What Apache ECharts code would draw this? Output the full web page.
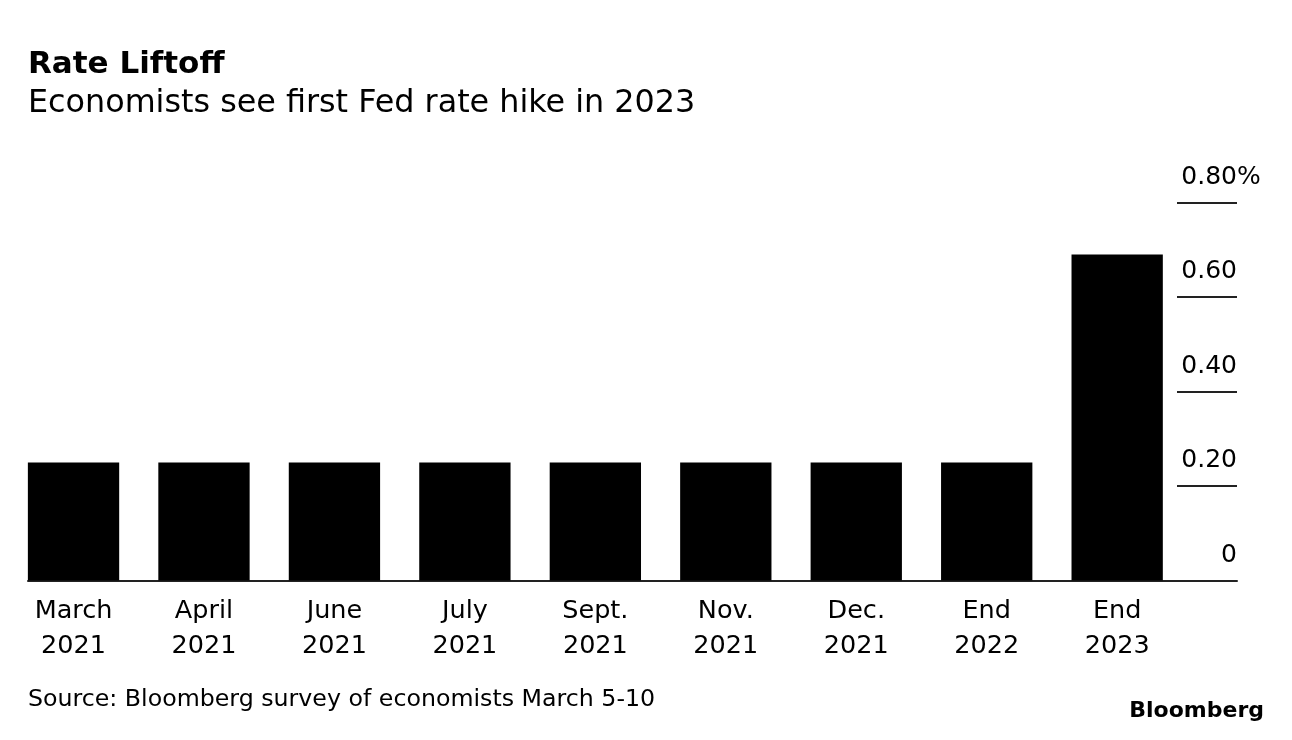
<!DOCTYPE html>
<html>
<head>
<meta charset="utf-8">
<script src="https://cdn.jsdelivr.net/npm/echarts@6/dist/echarts.min.js"></script>
<style>
html,body{margin:0;padding:0;background:#fff;}
#chart{width:1292px;height:740px;}
</style>
</head>
<body>
<div id="chart"></div>
<script>
// ---- data ----
const categories = ['March\n2021', 'April\n2021', 'June\n2021', 'July\n2021', 'Sept.\n2021', 'Nov.\n2021', 'Dec.\n2021', 'End\n2022', 'End\n2023'];
const rateValues = [0.25, 0.25, 0.25, 0.25, 0.25, 0.25, 0.25, 0.25, 0.69];
const yTickValues = [0, 0.2, 0.4, 0.6, 0.8];
const yTickLabels = ['0', '0.20', '0.40', '0.60', '0.80'];
const titleText = 'Rate Liftoff';
const subtitleText = 'Economists see first Fed rate hike in 2023';
const sourceText = 'Source: Bloomberg survey of economists March 5-10';
const logoText = 'Bloomberg';

const FONT = 'DejaVu Sans';
const yMin = yTickValues[0], yMax = yTickValues[yTickValues.length - 1];
const yStep = yTickValues[1] - yTickValues[0];

const chart = echarts.init(document.getElementById('chart'), null, {renderer: 'canvas'});

function yLabel(v) {
  const i = yTickValues.findIndex(t => Math.abs(t - v) < 1e-9);
  const txt = i >= 0 ? yTickLabels[i] : String(v);
  return i === yTickValues.length - 1 ? '{n|' + txt + '}{p|%}' : '{n|' + txt + '}';
}

const option = {
  backgroundColor: '#ffffff',
  animation: false,
  title: [
    {text: titleText, left: 28, top: 49, padding: 0,
     textStyle: {fontFamily: FONT, fontWeight: 'bold', fontSize: 31, lineHeight: 31, color: '#000'}},
    {text: subtitleText, left: 28, top: 88, padding: 0,
     textStyle: {fontFamily: FONT, fontWeight: 'normal', fontSize: 31.8, lineHeight: 32, color: '#000'}},
    {text: sourceText, left: 28, top: 688, padding: 0,
     textStyle: {fontFamily: FONT, fontWeight: 'normal', fontSize: 23.7, lineHeight: 24, color: '#000'}},
    {text: logoText, right: 28, top: 700, padding: 0,
     textStyle: {fontFamily: FONT, fontWeight: 'bold', fontSize: 22, lineHeight: 22, color: '#000'}}
  ],
  grid: [
    {left: 8.3, right: 109.6, top: 202.5, bottom: 159.5, containLabel: false},
    {left: 28, right: 55, top: 202.5, bottom: 159.5, containLabel: false}
  ],
  xAxis: [
    {type: 'category', gridIndex: 0, data: categories,
     axisLine: {show: false}, axisTick: {show: false},
     axisLabel: {interval: 0, margin: 13, color: '#000', fontFamily: FONT, fontSize: 25.5, lineHeight: 35}},
    {type: 'value', gridIndex: 1, min: 0, max: 1, show: true, position: 'bottom',
     axisLine: {show: true, onZero: false, lineStyle: {color: '#222', width: 2}},
     axisTick: {show: false}, axisLabel: {show: false}, splitLine: {show: false}}
  ],
  yAxis: [
    {type: 'value', gridIndex: 0, min: yMin, max: yMax, interval: yStep, show: false},
    {type: 'value', gridIndex: 1, min: yMin, max: yMax, interval: yStep, position: 'right',
     axisLine: {show: false, onZero: false},
     axisTick: {show: true, inside: true, length: 60, lineStyle: {color: '#222', width: 2}},
     splitLine: {show: false},
     axisLabel: {inside: true, margin: 0, align: 'right', verticalAlign: 'bottom',
       padding: [0, 0, 13, 0], lineHeight: 25, fontFamily: FONT, fontSize: 25, color: '#000',
       formatter: yLabel,
       rich: {
         n: {fontFamily: FONT, fontSize: 25, lineHeight: 25, color: '#000', align: 'left'},
         p: {fontFamily: FONT, fontSize: 25, lineHeight: 25, color: '#000', width: 0, align: 'left'}
       }}}
  ],
  series: [
    {type: 'bar', xAxisIndex: 0, yAxisIndex: 0, data: rateValues, barCategoryGap: '30%',
     itemStyle: {color: '#000'}, silent: true},
    {type: 'line', xAxisIndex: 1, yAxisIndex: 1, data: [], silent: true}
  ]
};
chart.setOption(option);
</script>
</body>
</html>
